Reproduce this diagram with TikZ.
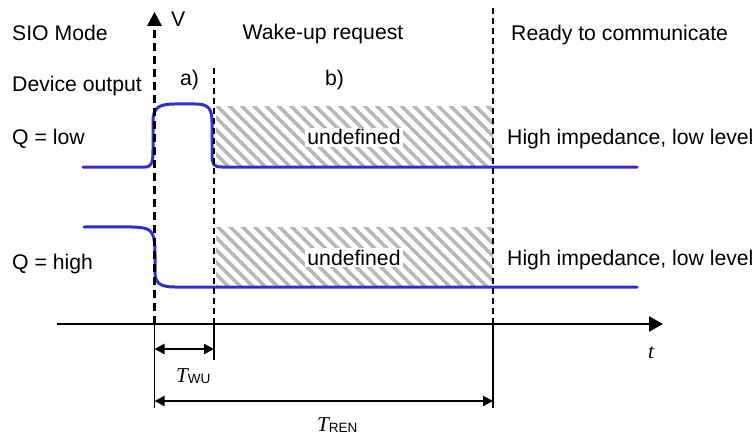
\documentclass[tikz,border=0pt]{standalone}
\usepackage{fontspec}
\setmainfont{Liberation Sans}
\newfontfamily\timesfont{Liberation Serif}
\usetikzlibrary{arrows.meta}
\definecolor{sigblue}{RGB}{48,48,204}
\definecolor{hatchgray}{RGB}{184,184,184}
\begin{document}
\begin{tikzpicture}[x=1pt,y=-1pt,
  font=\fontsize{21.2}{25}\selectfont,
  lbl/.style={inner sep=0pt, anchor=base west},
  lblc/.style={inner sep=0pt, anchor=base},
  signal/.style={draw=sigblue, line width=3pt, line join=round, line cap=round},
  vaxis/.style={line width=2.5pt, dash pattern=on 8pt off 5pt},
  marker/.style={line width=1.6pt, dash pattern=on 6pt off 4pt},
  tickline/.style={line width=1.2pt},
  dim/.style={line width=2.2pt, {Triangle[length=10pt,width=10pt]}-{Triangle[length=10pt,width=10pt]}},
  hatchline/.style={draw=hatchgray, line width=3.6pt},
  undef/.style={fill=white, inner sep=2pt, anchor=base}]

\useasboundingbox (0,0) rectangle (756,436);

% key positions on the time axis
\coordinate (vtop) at (154.5,26);
\coordinate (v0)   at (154.5,324);
\coordinate (vbot) at (154.5,408);
\coordinate (atop) at (214,66);
\coordinate (a0)   at (214,324);
\coordinate (abot) at (214,360);
\coordinate (btop) at (493,8);
\coordinate (b0)   at (493,324);
\coordinate (bbot) at (493,408);
\coordinate (tstart) at (57,324);
\coordinate (tend)   at (663,324);
\coordinate (wu1)  at (154.5,349);
\coordinate (wu2)  at (214,349);
\coordinate (ren1) at (154.5,401);
\coordinate (ren2) at (493,401);

% hatched "undefined" regions
\foreach \ytop in {107,227} {
  \begin{scope}
    \clip (216,\ytop) rectangle (493,\ytop+60);
    \foreach \k in {-6,...,23}
      \draw[hatchline] (216+\k*12.3,\ytop-2) -- ++(64,64);
  \end{scope}
}
\node[undef] (u1) at (354,145) {undefined};
\node[undef] (u2) at (354,265) {undefined};

% output signals
\draw[signal] (83,167) -- (145,167)
  .. controls (152,167) and (153,162) .. (153,150) -- (153,122)
  .. controls (153,108) and (158,104) .. (175,104) -- (195,104)
  .. controls (208,104) and (212,108) .. (212,122) -- (212,155)
  .. controls (212,165) and (214,167) .. (222,167) -- (637,167);
\draw[signal] (84,227) .. controls (120,227) and (140,226) .. (147,229)
  .. controls (154,232) and (155,240) .. (155,255) -- (155,272)
  .. controls (155,283) and (160,287) .. (175,287) -- (637,287);

% voltage axis and phase markers
\draw[vaxis] (v0) -- (vtop);
\fill (147,26) -- (162,26) -- (154.5,12) -- cycle;
\draw[marker] (a0) -- (atop);
\draw[marker] (b0) -- (btop);
\draw[tickline] (v0) -- (vbot);
\draw[tickline] (a0) -- (abot);
\draw[tickline] (b0) -- (bbot);

% time axis
\draw[line width=2.5pt, -{Triangle[length=14pt,width=15pt]}] (tstart) -- (tend);

% durations
\draw[dim] (wu1) -- (wu2);
\draw[dim] (ren1) -- (ren2);

% labels
\node[lbl] (sio)   at (12,41)  {SIO Mode};
\node[lbl] (dev)   at (12,92)  {Device output};
\node[lbl] (qlow)  at (12,144) {Q = low};
\node[lbl] (qhigh) at (12,269) {Q = high};
\node[lbl] (vlab)  at (171,27) {V};
\node[lbl] (alab)  at (180,85) {a)};
\node[lblc] (wake) at (323,40) {Wake-up request};
\node[lbl] (blab)  at (325,85) {b)};
\node[lbl] (ready) at (511,41) {Ready to communicate};
\node[lbl] (hi1)   at (507,144) {High impedance, low level};
\node[lbl] (hi2)   at (507,265) {High impedance, low level};
\node[lbl] (tlab)  at (648,358) {\timesfont\itshape t};
\node[lbl] (twu)   at (176,382) {\timesfont\itshape T\normalfont\fontsize{13.5}{15}\selectfont\raisebox{-1pt}{WU}};
\node[lbl] (tren)  at (317,431) {\timesfont\itshape T\normalfont\fontsize{13.5}{15}\selectfont\raisebox{-1pt}{REN}};
\end{tikzpicture}
\end{document}
